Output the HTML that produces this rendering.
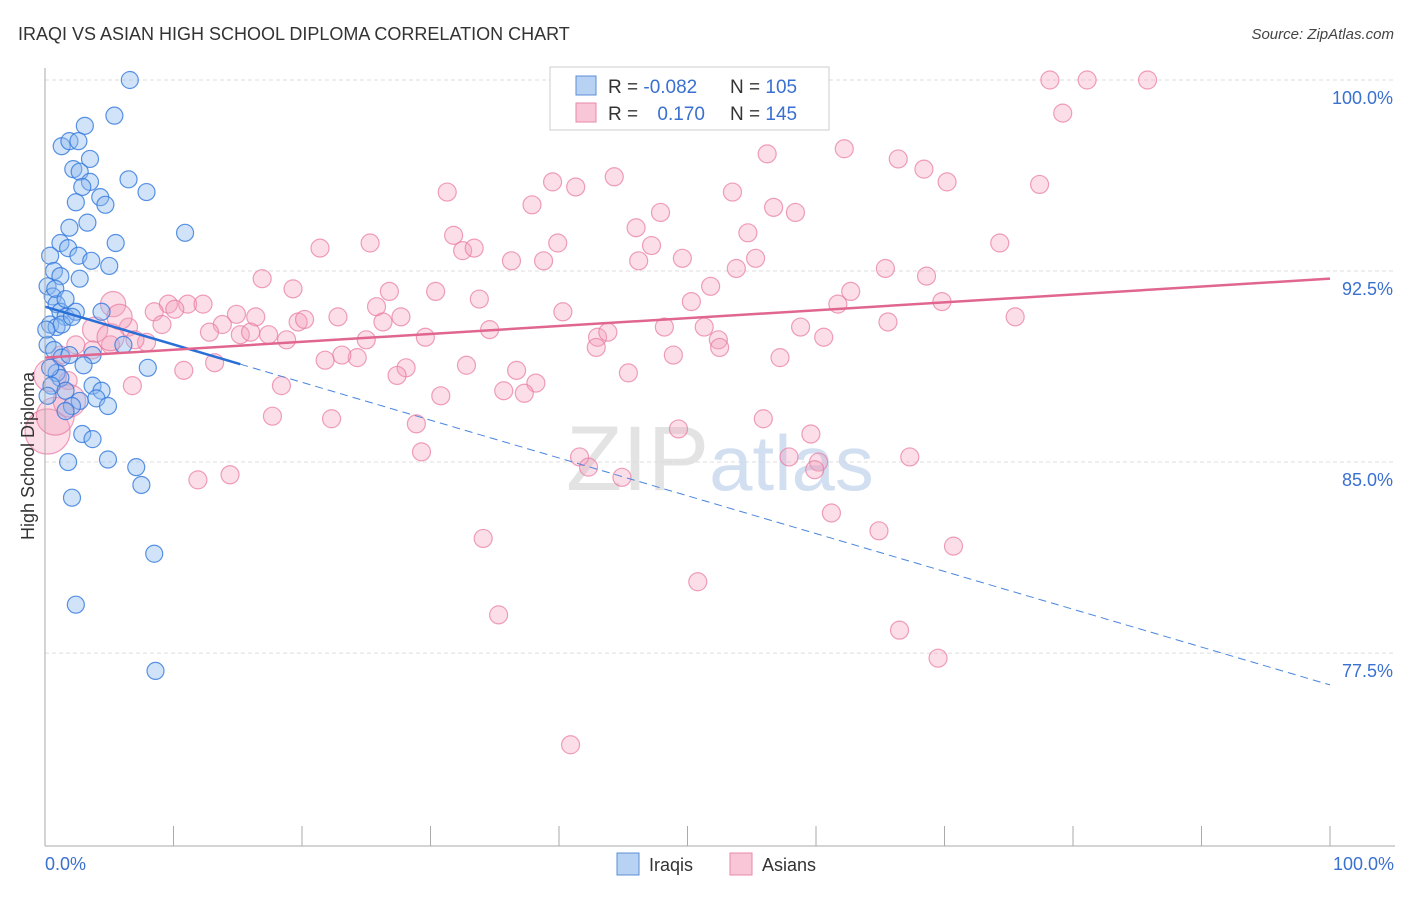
<!DOCTYPE html>
<html><head><meta charset="utf-8"><style>
body{margin:0;background:#fff;font-family:"Liberation Sans",sans-serif}
svg text{font-family:"Liberation Sans",sans-serif}
</style></head><body>
<svg id="chart" width="1406" height="892" xmlns="http://www.w3.org/2000/svg">
<text x="18" y="40" font-size="18" fill="#333">IRAQI VS ASIAN HIGH SCHOOL DIPLOMA CORRELATION CHART</text>
<text x="1394" y="39" font-size="15" fill="#444" text-anchor="end" font-style="italic">Source: ZipAtlas.com</text>
<g id="grid"></g>
<text x="720" y="490" text-anchor="middle" font-size="92" fill="#ddd" font-family="Liberation Serif" opacity="0.8">ZIP<tspan fill="#c8d8ee" font-family="Liberation Sans" font-size="78">atlas</tspan></text>
<g id="points"></g>
<g id="trends"></g>
<line x1="45" y1="68" x2="45" y2="846" stroke="#aaa"/>
<line x1="45" y1="846" x2="1395" y2="846" stroke="#aaa"/>
<g id="xticks"></g>
<text transform="translate(34,456) rotate(-90)" text-anchor="middle" font-size="18" fill="#333">High School Diploma</text>
<text x="45" y="870" font-size="18" fill="#3a70d0">0.0%</text>
<text x="1394" y="870" font-size="18" fill="#3a70d0" text-anchor="end">100.0%</text>
<g>
<rect x="550" y="67" width="279" height="63" fill="#fff" stroke="#ccc"/>
<rect x="576" y="76" width="20" height="19" fill="#b8d2f4" stroke="#5b8fd8"/>
<rect x="576" y="103" width="20" height="19" fill="#f8c6d6" stroke="#e88aa8"/>
<text x="608" y="93" font-size="19" fill="#333">R = <tspan fill="#3a70d0">-0.082</tspan></text>
<text x="730" y="93" font-size="19" fill="#333">N = <tspan fill="#3a70d0">105</tspan></text>
<text x="608" y="120" font-size="19" fill="#333">R = <tspan fill="#3a70d0" dx="14">0.170</tspan></text>
<text x="730" y="120" font-size="19" fill="#333">N = <tspan fill="#3a70d0">145</tspan></text>
</g>
<g><rect x="617" y="853" width="22" height="22" fill="#b8d2f4" stroke="#5b8fd8"/><text x="649" y="871" font-size="18" fill="#333">Iraqis</text></g>
<g><rect x="730" y="853" width="22" height="22" fill="#f8c6d6" stroke="#e88aa8"/><text x="762" y="871" font-size="18" fill="#333">Asians</text></g>
</svg>
<script>
const yTicks=[100,92.5,85,77.5];
const yTickLabels=["100.0%","92.5%","85.0%","77.5%"];
const xTicks=[10,20,30,40,50,60,70,80,90,100];
const iraqiX=[6.6,5.4,3.1,1.3,1.9,2.6,3.5,2.2,2.7,6.5,3.5,7.9,2.9,4.3,4.7,2.4,3.3,1.9,10.9,5.5,1.2,1.8,2.6,3.6,5.0,0.4,0.7,1.2,0.2,2.7,0.6,0.9,1.2,1.6,2.4,0.4,0.9,1.3,2.1,4.4,0.2,0.7,1.3,1.9,3.7,6.1,8.0,3.0,0.9,1.2,0.5,1.6,3.7,4.4,4.0,4.9,2.7,2.1,1.6,2.9,3.7,4.9,1.8,7.1,7.5,2.1,8.5,2.4,8.6,0.2,0.4,0.1,0.8,1.6];
const iraqiY=[100.0,98.6,98.2,97.4,97.6,97.6,96.9,96.5,96.4,96.1,96.0,95.6,95.8,95.4,95.1,95.2,94.4,94.2,94.0,93.6,93.6,93.4,93.1,92.9,92.7,93.1,92.5,92.3,91.9,92.2,91.5,91.2,90.9,90.7,90.9,90.4,90.3,90.4,90.7,90.9,89.6,89.4,89.1,89.2,89.2,89.6,88.7,88.8,88.5,88.3,88.0,87.8,88.0,87.8,87.5,87.2,87.4,87.2,87.0,86.1,85.9,85.1,85.0,84.8,84.1,83.6,81.4,79.4,76.8,87.6,88.7,90.2,91.8,91.4];
const asianX=[78.2,81.1,85.8,79.2,62.2,56.2,66.4,68.4,44.3,39.5,41.3,31.3,53.5,70.2,77.4,37.9,47.9,56.7,58.4,46.0,54.7,31.8,39.9,47.2,25.3,74.3,21.4,32.5,33.4,36.3,38.8,49.6,55.3,46.2,53.8,65.4,68.6,16.9,19.3,51.8,26.8,30.4,33.8,62.7,50.3,61.7,69.8,5.3,9.6,11.1,12.3,10.1,8.5,14.9,25.8,19.7,20.2,16.4,22.8,27.7,40.3,48.2,51.3,26.3,34.6,13.8,17.4,9.1,6.5,3.9,12.8,15.2,16.0,18.8,29.6,43.0,43.8,52.4,58.8,65.6,75.5,60.6,25.0,24.3,23.1,42.9,52.5,48.9,57.2,21.8,32.8,13.2,1.2,3.7,7.9,7.0,5.1,2.4,28.1,36.7,27.4,10.8,45.4,38.2,18.4,35.7,37.3,30.8,6.8,1.8,0.4,17.7,22.3,28.9,49.3,55.9,59.6,29.3,41.6,42.3,57.9,60.2,59.9,67.3,44.9,11.9,14.4,61.2,64.9,34.1,70.7,50.8,35.3,66.5,69.5,40.9,0.2,0.8,1.9,5.1,5.8];
const asianY=[100.0,100.0,100.0,98.7,97.3,97.1,96.9,96.5,96.2,96.0,95.8,95.6,95.6,96.0,95.9,95.1,94.8,95.0,94.8,94.2,94.0,93.9,93.6,93.5,93.6,93.6,93.4,93.3,93.4,92.9,92.9,93.0,93.0,92.9,92.6,92.6,92.3,92.2,91.8,91.9,91.7,91.7,91.4,91.7,91.3,91.2,91.3,91.2,91.2,91.2,91.2,91.0,90.9,90.8,91.1,90.5,90.6,90.7,90.7,90.7,90.9,90.3,90.3,90.5,90.2,90.4,90.0,90.4,90.3,90.2,90.1,90.0,90.1,89.8,89.9,89.9,90.1,89.8,90.3,90.5,90.7,89.9,89.8,89.1,89.2,89.5,89.5,89.2,89.1,89.0,88.8,88.9,89.2,89.4,89.7,89.8,89.6,89.6,88.7,88.6,88.4,88.6,88.5,88.1,88.0,87.8,87.7,87.6,88.0,88.2,88.4,86.8,86.7,86.5,86.3,86.7,86.1,85.4,85.2,84.8,85.2,85.0,84.7,85.2,84.4,84.3,84.5,83.0,82.3,82.0,81.7,80.3,79.0,78.4,77.3,73.9,86.2,86.8,87.4,89.9,90.7];
const asianSize=[];for(let i=0;i<asianX.length;i++)asianSize.push(1);
asianSize[asianX.length-5]=2.5;asianSize[asianX.length-4]=2.1;asianSize[asianX.length-3]=1.8;asianSize[asianX.length-2]=1.5;asianSize[asianX.length-1]=1.4;asianSize[110]=1.8;asianSize[47]=1.4;asianSize[69]=1.4;
const iraqiTrend=[91.1,76.25];
const asianTrend=[89.1,92.2];
const iraqiSolidEnd=15.2;

const X=v=>45+v*12.85;
const Y=v=>80+(100-v)*25.47;
const NS="http://www.w3.org/2000/svg";
function mk(tag,attrs,parent){const e=document.createElementNS(NS,tag);for(const k in attrs)e.setAttribute(k,attrs[k]);parent.appendChild(e);return e;}
const grid=document.getElementById('grid');
yTicks.forEach((t,i)=>{
 const l=mk('line',{x1:45,x2:1395,y1:Y(t),y2:Y(t),stroke:'#ddd','stroke-dasharray':'4 3'},grid);
 
 
 const tx=mk('text',{x:1393,y:Y(t)+24,'text-anchor':'end','font-size':18,fill:'#3a70d0'},grid);
 tx.textContent=yTickLabels[i];
 
 
});
const xt=document.getElementById('xticks');
xTicks.forEach(t=>{
 const l=mk('line',{x1:X(t),x2:X(t),y1:826,y2:846,stroke:'#aaa'},xt);
 
 
});
const pts=document.getElementById('points');
asianX.forEach((x,i)=>{
 const c=mk('circle',{cx:X(x),cy:Y(asianY[i]),r:9*asianSize[i],fill:'rgba(244,160,188,0.35)',stroke:'rgba(232,120,160,0.7)','stroke-width':1.2},pts);
 
 
});
iraqiX.forEach((x,i)=>{
 const c=mk('circle',{cx:X(x),cy:Y(iraqiY[i]),r:8.5,fill:'rgba(140,185,240,0.4)',stroke:'rgba(50,120,220,0.8)','stroke-width':1.2},pts);
 
 
});
const tr=document.getElementById('trends');
const iy=x=>iraqiTrend[0]+(iraqiTrend[1]-iraqiTrend[0])*x/100;
let a=mk('line',{x1:X(0),y1:Y(iy(0)),x2:X(iraqiSolidEnd),y2:Y(iy(iraqiSolidEnd)),stroke:'#2a6fd6','stroke-width':2.5},tr);


a=mk('line',{x1:X(iraqiSolidEnd),y1:Y(iy(iraqiSolidEnd)),x2:X(100),y2:Y(iy(100)),stroke:'#4a85dd','stroke-width':1,'stroke-dasharray':'8 5'},tr);


a=mk('line',{x1:X(0),y1:Y(asianTrend[0]),x2:X(100),y2:Y(asianTrend[1]),stroke:'#e06690','stroke-width':2.5},tr);


</script>
</body></html>
